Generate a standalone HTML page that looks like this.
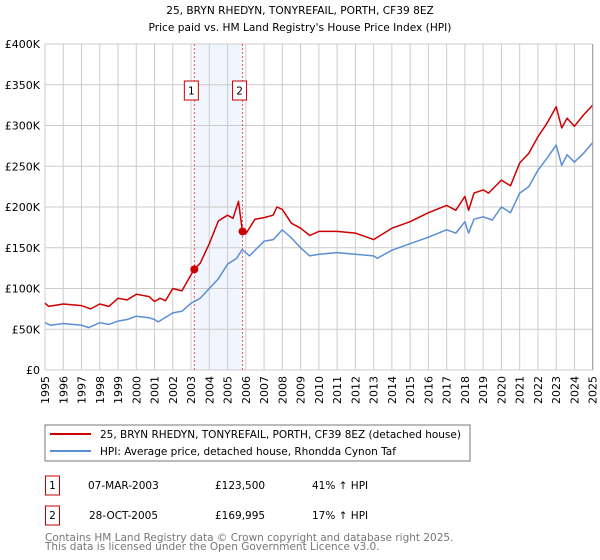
<!DOCTYPE html>
<html><head><meta charset="utf-8"><style>
body{margin:0;background:#fff;}
svg{display:block;font-family:"DejaVu Sans","Liberation Sans",sans-serif;}
</style></head><body>
<svg id="chart" width="600" height="560" viewBox="0 0 600 560">
<text x="300" y="14" text-anchor="middle" font-size="10.6">25, BRYN RHEDYN, TONYREFAIL, PORTH, CF39 8EZ</text>
<text x="300" y="31" text-anchor="middle" font-size="10.6">Price paid vs. HM Land Registry's House Price Index (HPI)</text>
<g id="grid"></g>
<g id="marks"></g>
<g id="axes"></g>
<rect x="45" y="425" width="425" height="36" fill="#fff" stroke="#777"/>
<line x1="50" y1="434" x2="91" y2="434" stroke="#cc0000" stroke-width="2"/>
<text x="100" y="438" font-size="10.5">25, BRYN RHEDYN, TONYREFAIL, PORTH, CF39 8EZ (detached house)</text>
<line x1="50" y1="451" x2="91" y2="451" stroke="#5b8fd4" stroke-width="2"/>
<text x="100" y="455" font-size="10.5">HPI: Average price, detached house, Rhondda Cynon Taf</text>
<g>
<rect x="45.5" y="476" width="14" height="19" fill="#fff" stroke="#cc0000"/>
<text x="52.5" y="489" text-anchor="middle" font-size="10.5">1</text>
<text x="88" y="489" font-size="10.5">07-MAR-2003</text>
<text x="215" y="489" font-size="10.5">£123,500</text>
<text x="312" y="489" font-size="10.5">41% ↑ HPI</text>
</g>
<g>
<rect x="45.5" y="506" width="14" height="19" fill="#fff" stroke="#cc0000"/>
<text x="52.5" y="519" text-anchor="middle" font-size="10.5">2</text>
<text x="89" y="519" font-size="10.5">28-OCT-2005</text>
<text x="215" y="519" font-size="10.5">£169,995</text>
<text x="312" y="519" font-size="10.5">17% ↑ HPI</text>
</g>
<text x="45" y="541" font-size="10.5" fill="#777">Contains HM Land Registry data © Crown copyright and database right 2025.</text>
<text x="45" y="550" font-size="10.5" fill="#777">This data is licensed under the Open Government Licence v3.0.</text>
</svg>
<script>
const hpiYears=[1995,1995.3,1996,1997,1997.4,1998,1998.5,1999,1999.5,2000,2000.7,2001,2001.2,2002,2002.5,2003,2003.5,2004,2004.5,2005,2005.5,2005.8,2006.2,2007,2007.5,2008,2008.5,2009,2009.5,2010,2011,2012,2013,2013.2,2014,2015,2016,2017,2017.5,2018,2018.2,2018.5,2019,2019.5,2020,2020.5,2021,2021.5,2022,2022.5,2023,2023.3,2023.6,2024,2024.5,2025];
const hpiValues=[58,55,57,55,52,58,56,60,62,66,64,62,59,70,72,82,88,100,112,130,137,148,140,158,160,172,162,150,140,142,144,142,140,137,147,155,163,172,168,182,168,185,188,184,200,193,217,225,245,260,276,251,264,255,266,279];
const priceYears=[1995,1995.2,1996,1997,1997.5,1998,1998.5,1999,1999.5,2000,2000.7,2001,2001.3,2001.6,2002,2002.5,2003,2003.18,2003.5,2004,2004.5,2005,2005.3,2005.6,2005.7,2005.82,2006,2006.5,2007,2007.5,2007.7,2008,2008.5,2009,2009.5,2010,2011,2012,2013,2014,2015,2016,2017,2017.5,2018,2018.2,2018.5,2019,2019.3,2020,2020.5,2021,2021.5,2022,2022.5,2023,2023.3,2023.6,2024,2024.5,2025];
const priceValues=[82,78,81,79,75,81,78,88,86,93,90,84,88,85,100,97,117,123.5,131,155,183,190,186,207,190,170,167,185,187,190,200,197,180,174,165,170,170,168,160,174,182,193,202,196,213,196,217,221,217,233,226,254,266,286,303,323,297,309,299,313,325];
const saleYears=[2003.18,2005.82];
const saleValues=[123.5,169.995];
const saleLabels=["1","2"];
const yTicks=[0,50,100,150,200,250,300,350,400];
const yTickLabels=["£0","£50K","£100K","£150K","£200K","£250K","£300K","£350K","£400K"];
const xTicks=[1995,1996,1997,1998,1999,2000,2001,2002,2003,2004,2005,2006,2007,2008,2009,2010,2011,2012,2013,2014,2015,2016,2017,2018,2019,2020,2021,2022,2023,2024,2025];

const NS="http://www.w3.org/2000/svg";
const X=y=>45+(y-1995)*(592.7-45)/30;
const Y=v=>370-v*(370-44)/400;
function mk(tag,attrs,parent){const e=document.createElementNS(NS,tag);for(const k in attrs)e.setAttribute(k,attrs[k]);parent.appendChild(e);return e;}
const grid=document.getElementById('grid'),marks=document.getElementById('marks'),axes=document.getElementById('axes');
const sh=mk('rect',{x:X(saleYears[0]),y:44,width:X(saleYears[1])-X(saleYears[0]),height:326,fill:'#f1f5fd'},grid);


yTicks.forEach((t,i)=>{
 const l=mk('line',{x1:45,x2:592.7,y1:Y(t),y2:Y(t),stroke:'#cccccc','stroke-width':1},grid);
 
 
 const tx=mk('text',{x:40,y:Y(t)+4,'text-anchor':'end','font-size':11},axes);
 tx.textContent=yTickLabels[i];
 
 
});
xTicks.forEach(t=>{
 const l=mk('line',{x1:X(t),x2:X(t),y1:44,y2:370,stroke:'#cccccc','stroke-width':1},grid);
 
 
 const tx=mk('text',{x:0,y:0,'text-anchor':'end','font-size':11,transform:`translate(${X(t)+4},376) rotate(-90)`},axes);
 tx.textContent=String(t);
 
 
});
saleYears.forEach((s,i)=>{
 const l=mk('line',{x1:X(s),x2:X(s),y1:44,y2:370,stroke:'#ee5555','stroke-width':1,'stroke-dasharray':'2,2'},grid);
 
 
});
function path(xs,vs,color,name){
 const d=xs.map((x,i)=>(i?'L':'M')+X(x).toFixed(1)+','+Y(vs[i]).toFixed(1)).join('');
 const p=mk('path',{d:d,fill:'none',stroke:color,'stroke-width':1.5,'stroke-linejoin':'round'},marks);
 
 
}
path(hpiYears,hpiValues,'#5b8fd4','hpi-line');
path(priceYears,priceValues,'#cc0000','price-line');
saleYears.forEach((s,i)=>{
 const c=mk('circle',{cx:X(s),cy:Y(saleValues[i]),r:4,fill:'#cc0000'},marks);
 
 
 const g=mk('g',{},marks);
 
 
 mk('rect',{x:X(s)-10,y:81,width:14,height:19,fill:'#fff',stroke:'#cc0000'},g);
 const t=mk('text',{x:X(s)-3,y:94.5,'text-anchor':'middle','font-size':10.5},g);
 t.textContent=saleLabels[i];
});
mk('line',{x1:592.7,x2:592.7,y1:44,y2:370,stroke:'#999'},axes);
</script>
</body></html>
